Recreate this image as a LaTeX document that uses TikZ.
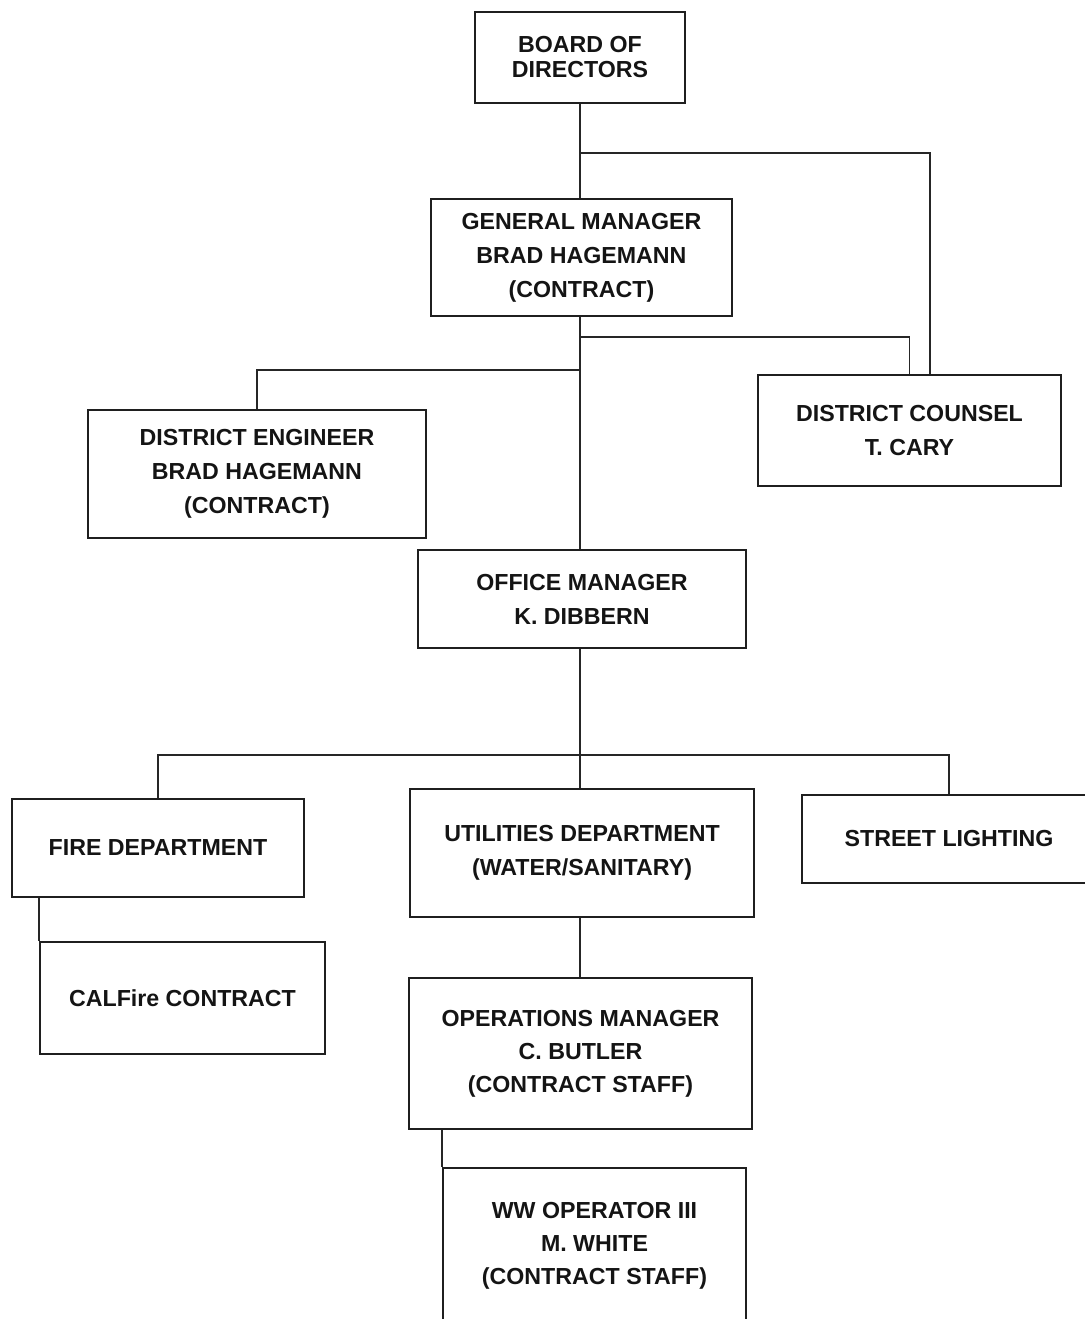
\documentclass[tikz,border=0pt]{standalone}
\usepackage{fontspec}
\setmainfont{Liberation Sans}
\usetikzlibrary{calc}
\begin{document}
\begin{tikzpicture}[x=1pt,y=-1pt,
  box/.style={draw=black!88,line width=1.8pt,rectangle,inner sep=0pt,align=center,
    text=black!92,font=\fontsize{23.2}{34}\selectfont\bfseries},
  tight/.style={font=\fontsize{23.2}{25}\selectfont\bfseries},
  mid/.style={font=\fontsize{23.2}{33}\selectfont\bfseries},
  conn/.style={draw=black!85,line width=1.6pt}]
\useasboundingbox (0,0) rectangle (1084,1319);
\node[box,tight,minimum width=210pt,minimum height=91pt] (board) at (580,57.5) {BOARD OF\\DIRECTORS};
\node[box,minimum width=301pt,minimum height=117pt] (gm) at (581.5,257.5) {GENERAL MANAGER\\BRAD HAGEMANN\\(CONTRACT)};
\node[box,minimum width=338pt,minimum height=128pt] (de) at (257,474) {DISTRICT ENGINEER\\BRAD HAGEMANN\\(CONTRACT)};
\node[box,minimum width=303pt,minimum height=111pt] (counsel) at (909.5,430.5) {DISTRICT COUNSEL\\T. CARY};
\node[box,minimum width=328pt,minimum height=98pt] (om) at (582,599) {OFFICE MANAGER\\K. DIBBERN};
\node[box,minimum width=292pt,minimum height=98pt] (fire) at (158,848) {FIRE DEPARTMENT};
\node[box,minimum width=285pt,minimum height=112pt] (calfire) at (182.5,998) {CALFire CONTRACT};
\node[box,minimum width=344pt,minimum height=128pt] (util) at (582,853) {UTILITIES DEPARTMENT\\(WATER/SANITARY)};
\node[box,minimum width=294pt,minimum height=88pt] (street) at (949,839) {STREET LIGHTING};
\node[box,mid,minimum width=343pt,minimum height=151pt] (ops) at (580.5,1053.5) {OPERATIONS MANAGER\\C. BUTLER\\(CONTRACT STAFF)};
\node[box,mid,minimum width=303pt,minimum height=156pt] (ww) at (594.5,1246) {WW OPERATOR III\\M. WHITE\\(CONTRACT STAFF)};
\coordinate (j1) at (580,153);
\coordinate (j2) at (580,337);
\coordinate (j3) at (580,370);
\coordinate (j4) at (580,755);
\draw[conn] (board.south) -- (board.south |- gm.north);
\draw[conn] (j1) -| ($(counsel.north west)!0.568!(counsel.north east)$);
\draw[conn] (j1 |- gm.south) -- (j1 |- om.north);
\draw[conn] (j2) -| (counsel.north);
\draw[conn] (j3) -| (de.north);
\draw[conn] (j1 |- om.south) -- (j4);
\draw[conn] (fire.north) |- (j4) -| (street.north);
\draw[conn] (j4) -- (j4 |- util.north);
\draw[conn] (fire.south -| calfire.north west) -- (calfire.north west);
\draw[conn] (j1 |- util.south) -- (j1 |- ops.north);
\draw[conn] (ww.north west |- ops.south) -- (ww.north west);
\end{tikzpicture}
\end{document}
